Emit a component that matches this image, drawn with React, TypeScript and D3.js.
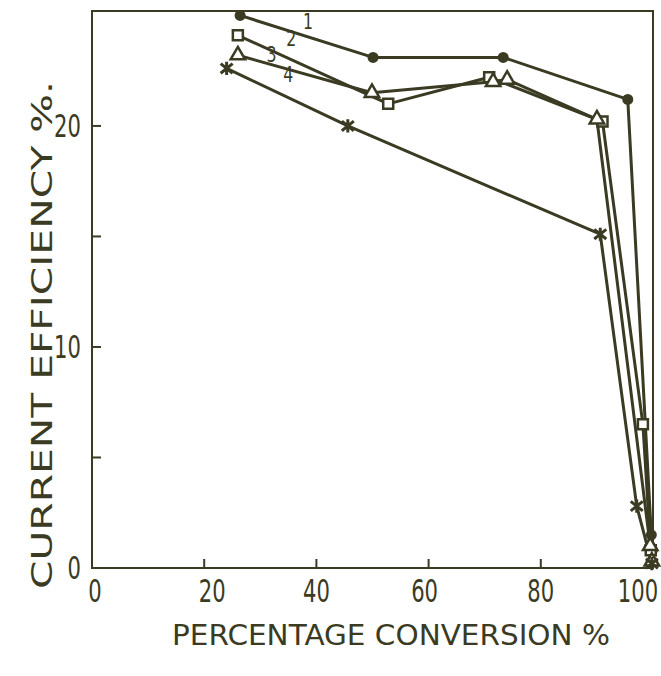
import * as d3 from "d3";

const W = 661;
const H = 676;

// series: [percentage conversion, current efficiency]
const series1: [number, number][] = [[26.4, 25.0], [50.1, 23.1], [73.3, 23.1], [95.5, 21.2], [99.7, 1.5], [99.9, 0.8]];
const series2: [number, number][] = [[26.0, 24.1], [52.8, 21.0], [70.8, 22.2], [91.0, 20.2], [98.2, 6.5], [99.6, 0.8]];
const series3: [number, number][] = [[26.0, 23.2], [49.9, 21.5], [71.5, 22.0], [74.0, 22.1], [90.0, 20.3], [99.5, 1.0], [99.8, 0.3]];
const series4: [number, number][] = [[24.0, 22.6], [45.6, 20.0], [90.6, 15.1], [97.1, 2.8], [99.8, 0.2]];
const curveLabels = ["1", "2", "3", "4"];
const curveLabelPos: [number, number][] = [[38.5, 24.4], [35.5, 23.6], [32, 22.9], [35, 22.0]];
const xTicks = [0, 20, 40, 60, 80, 100];
const yTicks = [0, 10, 20];
const yMinor = [5, 15];

const ink = "#3b3a22";
const font = "'DejaVu Sans', sans-serif";

const margin = { left: 92, right: 8, top: 11, bottom: 108 };

function starPath(x: number, y: number, s: number) {
  const p = d3.path();
  p.moveTo(x - s, y - s * 0.8);
  p.lineTo(x + s, y + s * 0.8);
  p.moveTo(x + s, y - s * 0.8);
  p.lineTo(x - s, y + s * 0.8);
  p.moveTo(x, y - s * 1.1);
  p.lineTo(x, y + s * 1.1);
  return p.toString();
}

export default function App() {
  const x = d3.scaleLinear().domain([0, 100]).range([margin.left, W - margin.right]);
  const y = d3.scaleLinear().domain([0, 25.2]).range([H - margin.bottom, margin.top]);
  const line = d3.line<[number, number]>().x((d) => x(d[0])).y((d) => y(d[1]));
  const all = [series1, series2, series3, series4];

  const sq = d3.symbol(d3.symbolSquare, 100);
  const tri = d3.symbol(d3.symbolTriangle, 90);

  // small nudges so labels sit where the printed ones do
  const xLabelShift = (t: number) => (t === 0 ? 3 : t === 100 ? -15 : t === 20 ? 8 : t === 60 ? -4 : 0);
  const narrow = "scale(0.66,1)";

  return (
    <svg width={W} height={H} style={{ position: "absolute", left: 0, top: 0, background: "#fff" }}>
      <rect x={x(0)} y={y(25.2)} width={x(100) - x(0)} height={y(0) - y(25.2)} fill="none" stroke={ink} strokeWidth={2} />

      {xTicks.slice(1, -1).map((t) => (
        <line key={"xt" + t} x1={x(t)} x2={x(t)} y1={y(0)} y2={y(0) - 9} stroke={ink} strokeWidth={2} />
      ))}
      {[...yTicks.slice(1), ...yMinor].map((t) => (
        <line key={"yt" + t} x1={x(0)} x2={x(0) + 9} y1={y(t)} y2={y(t)} stroke={ink} strokeWidth={2} />
      ))}

      <g fontFamily={font} fontSize={32} fill={ink}>
        {xTicks.map((t) => (
          <text key={"xl" + t} transform={`translate(${x(t) + xLabelShift(t)},${y(0) + 34}) ${narrow}`} textAnchor="middle">
            {t}
          </text>
        ))}
        {yTicks.map((t) => (
          <text key={"yl" + t} transform={`translate(${x(0) - 11},${y(t) + 11}) ${narrow}`} textAnchor="end">
            {t}
          </text>
        ))}
      </g>
      <g fontFamily={font} fontSize={29} fill={ink}>
        <text x={391} y={645} textAnchor="middle" textLength={438} lengthAdjust="spacingAndGlyphs">
          PERCENTAGE CONVERSION %
        </text>
        <text
          transform={`translate(52,${335}) rotate(-90)`}
          textAnchor="middle"
          textLength={508}
          lengthAdjust="spacingAndGlyphs"
        >
          CURRENT EFFICIENCY %.
        </text>
      </g>

      {all.map((s, i) => (
        <path key={"l" + i} d={line(s) ?? ""} fill="none" stroke={ink} strokeWidth={3} strokeLinejoin="round" />
      ))}

      {series1.map((d, i) => (
        <circle key={"c" + i} cx={x(d[0])} cy={y(d[1])} r={5.5} fill={ink} />
      ))}
      {series2.map((d, i) => (
        <path key={"s" + i} d={sq() ?? ""} transform={`translate(${x(d[0])},${y(d[1])})`} fill="#fff" stroke={ink} strokeWidth={2.5} />
      ))}
      {series3.map((d, i) => (
        <path key={"t" + i} d={tri() ?? ""} transform={`translate(${x(d[0])},${y(d[1])})`} fill="#fff" stroke={ink} strokeWidth={2.5} />
      ))}
      {series4.map((d, i) => (
        <path key={"x" + i} d={starPath(x(d[0]), y(d[1]), 6)} fill="none" stroke={ink} strokeWidth={3} />
      ))}

      <g fontFamily={font} fontSize={21} fill={ink}>
        {curveLabels.map((l, i) => (
          <text key={"cl" + i} transform={`translate(${x(curveLabelPos[i][0])},${y(curveLabelPos[i][1])}) scale(0.75,1)`} textAnchor="middle">
            {l}
          </text>
        ))}
      </g>
    </svg>
  );
}
